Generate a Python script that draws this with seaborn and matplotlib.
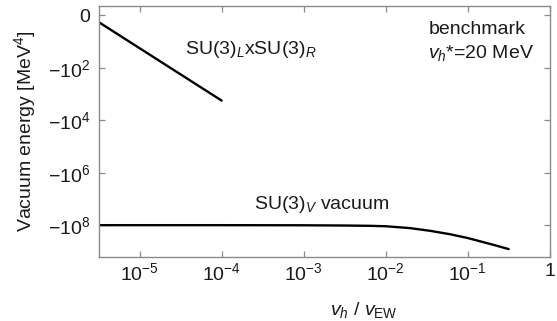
import numpy as np
import pandas as pd
import seaborn as sns
import matplotlib
matplotlib.use("Agg")
import matplotlib.pyplot as plt
from matplotlib.ticker import FixedLocator, NullLocator

# chiral (SU(3)_L x SU(3)_R) branch
vh_chiral = [3.16e-6, 1e-5, 3.16e-5, 1e-4]
E_chiral = [-1.75, -17.5, -175.0, -1750.0]

# SU(3)_V vacuum branch
vh_vector = [3.16e-6, 1e-5, 1e-4, 1e-3, 3e-3, 6.5e-3, 1e-2, 2e-2, 3.5e-2, 6e-2, 0.1, 0.2, 0.316]
E_vector = [-1.0e8, -1.0e8, -1.0e8, -1.01e8, -1.03e8, -1.06e8, -1.1e8, -1.3e8,
            -1.65e8, -2.2e8, -3.1e8, -5.5e8, -8.2e8]

xticks = [1e-5, 1e-4, 1e-3, 1e-2, 1e-1, 1]
xticklabels = [r"$10^{-5}$", r"$10^{-4}$", r"$10^{-3}$", r"$10^{-2}$", r"$10^{-1}$", "1"]
yticks = [0, -1e2, -1e4, -1e6, -1e8]
yticklabels = ["0", r"$-10^{2}$", r"$-10^{4}$", r"$-10^{6}$", r"$-10^{8}$"]

sns.set_style("ticks")
plt.rcParams["font.family"] = ["Liberation Sans", "DejaVu Sans"]
plt.rcParams["mathtext.fontset"] = "custom"
plt.rcParams["mathtext.rm"] = "Liberation Sans"
plt.rcParams["mathtext.it"] = "Liberation Sans:italic"
plt.rcParams["mathtext.bf"] = "Liberation Sans:bold"

chiral = pd.DataFrame({"vh": vh_chiral, "E": E_chiral})
vector = pd.DataFrame({"vh": vh_vector, "E": E_vector})

fig, ax = plt.subplots(figsize=(5.57, 3.21), dpi=100)
fig.subplots_adjust(left=0.177, right=0.987, top=0.981, bottom=0.199)

sns.lineplot(data=chiral, x="vh", y="E", ax=ax, color="black", lw=1.7)
sns.lineplot(data=vector, x="vh", y="E", ax=ax, color="black", lw=1.7)

ax.set_xscale("log")
ax.set_yscale("symlog", linthresh=1, linscale=0.01)
ax.set_xlim(10 ** -5.5, 1)
ax.set_ylim(-1.66e9, 2.2)

ax.xaxis.set_major_locator(FixedLocator(xticks))
ax.set_xticklabels(xticklabels)
ax.xaxis.set_minor_locator(NullLocator())
ax.yaxis.set_major_locator(FixedLocator(yticks))
ax.set_yticklabels(yticklabels)
ax.yaxis.set_minor_locator(NullLocator())

for s in ax.spines.values():
    s.set_color("#8a8a8a")
    s.set_linewidth(1.0)
ax.tick_params(direction="in", length=4, width=0.9, color="#8a8a8a",
               top=True, right=True, labelsize=14, labelcolor="#1a1a1a")
ax.tick_params(axis="x", pad=4)
ax.tick_params(axis="y", pad=6)

ax.set_xlabel(r"$v_h$ / $v_{\rm EW}$", fontsize=14, color="#1a1a1a", va="center")
ax.xaxis.set_label_coords(0.588, -0.212)
ax.set_ylabel(r"Vacuum energy [MeV$^{4}$]", fontsize=14, color="#1a1a1a", va="center")
ax.yaxis.set_label_coords(-0.163, 0.5)

ax.text(3.6e-5, -20, r"SU(3)$_L$xSU(3)$_R$", fontsize=14, va="center", color="#1a1a1a")
ax.text(2.5e-4, -1.6e7, r"SU(3)$_V$ vacuum", fontsize=14, va="center", color="#1a1a1a")
ax.text(0.033, -3.4, "benchmark", fontsize=14, va="center", color="#1a1a1a")
ax.text(0.033, -26, r"$v_h$*=20 MeV", fontsize=14, va="center", color="#1a1a1a")

fig.savefig("out.png", dpi=100)
